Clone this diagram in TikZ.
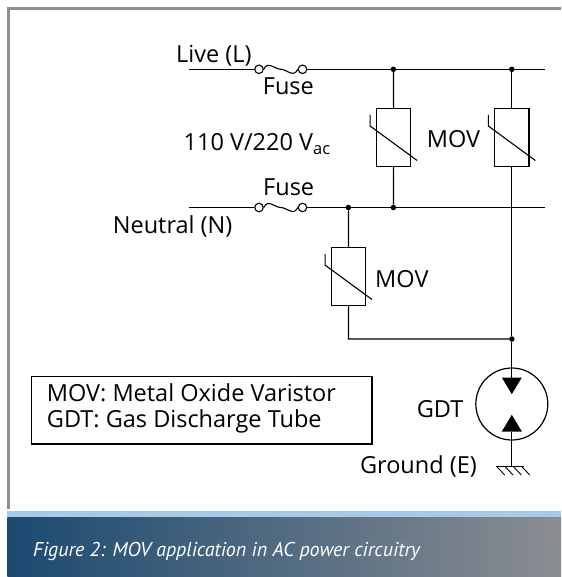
\documentclass[tikz,border=0pt]{standalone}
\usepackage{fontspec}
\setmainfont{Open Sans}
\newfontfamily\capfont{PT Sans}
\usetikzlibrary{calc}
\definecolor{framegray}{HTML}{8E8E8E}
\definecolor{lightband}{HTML}{A5CAEA}
\definecolor{darkleft}{HTML}{1B4A70}
\definecolor{darkright}{HTML}{8B8D92}
\begin{document}
\begin{tikzpicture}[x=1pt,y=-1pt,
  wire/.style={line width=1.2pt},
  lbl/.style={inner sep=0pt,font=\fontsize{23.5}{26}\selectfont},
  dot/.style={circle,fill=black,inner sep=0pt,minimum size=5.5pt},
  term/.style={circle,draw,line width=1.1pt,fill=white,inner sep=0pt,minimum size=8.5pt},
  movbox/.style={draw,line width=1.2pt,minimum width=34.5pt,minimum height=58pt,inner sep=0pt},
  tri/.style={fill=black}
]
\useasboundingbox (0,0) rectangle (561,577);
\fill[white] (0,0) rectangle (561,577);
% frame
\draw[framegray,line width=2.5pt] (8.6,509) -- (8.6,8.6) -- (561,8.6);
% caption band
\fill[lightband] (7.3,510.7) rectangle (561,517.3);
\shade[left color=darkleft,right color=darkright] (7.3,517.3) rectangle (561,577);
\node[inner sep=0pt,anchor=base west,text=white,font=\capfont\fontsize{20}{22}\selectfont\itshape] (cap) at (33,556.5) {Figure 2: MOV application in AC power circuitry};

% coordinates
\coordinate (Ls) at (189,69.3);
\coordinate (Le) at (545,69.3);
\coordinate (Ns) at (189,207.5);
\coordinate (Ne) at (545,207.5);
\node[term] (LF1) at (259,69.3) {};
\node[term] (LF2) at (302.5,69.3) {};
\node[term] (NF1) at (259,207.5) {};
\node[term] (NF2) at (302.5,207.5) {};
\node[dot] (dL1) at (393.4,69.3) {};
\node[dot] (dL2) at (511.8,69.3) {};
\node[dot] (dN1) at (348.4,207.5) {};
\node[dot] (dN2) at (393.4,207.5) {};
\node[dot] (dB) at (511.8,339) {};
\coordinate (cB) at (348.4,339);

% MOV boxes
\node[movbox] (M1) at (393.6,137.5) {};
\node[movbox] (M2) at (511.8,137.5) {};
\node[movbox,minimum width=34pt,minimum height=57.5pt] (M3) at (348.6,276.6) {};
\foreach \m in {M1,M2,M3}{
  \draw[line width=1.1pt] ($(\m.center)+(-23.5,-22.5)$) -- ($(\m.center)+(-23.5,-11.5)$) -- ($(\m.center)+(23.5,23)$);
}

% wires
\draw[wire] (Ls) -- (LF1.west);
\draw[wire] (LF2.east) -- (Le);
\draw[wire] (Ns) -- (NF1.west);
\draw[wire] (NF2.east) -- (Ne);
\foreach \a/\b in {LF1/LF2,NF1/NF2}{
  \draw[line width=1.1pt] (\a.east) .. controls +(4,-9) and +(-6,0) .. ($(\a.east)!0.5!(\b.west)$) .. controls +(6,0) and +(-4,9) .. (\b.west);
}
\draw[wire] (dL1) -- (M1.north);
\draw[wire] (M1.south) -- (dN2);
\draw[wire] (dL2) -- (M2.north);
\draw[wire] (M2.south) -- (dB);
\draw[wire] (dN1) -- (M3.north);
\draw[wire] (M3.south) -- (cB) -- (dB);

% GDT
\node[circle,draw,line width=1.2pt,minimum size=72pt,inner sep=0pt] (G) at (511.8,404) {};
\coordinate (T1b) at (511.8,377.5);
\coordinate (T2b) at (511.8,431.5);
\coordinate (Gnd) at (511.8,466.5);
\fill[tri] (501.8,377.5) -- (521.8,377.5) -- (511.8,394.2) -- cycle;
\fill[tri] (501.8,431.5) -- (521.8,431.5) -- (511.8,414.8) -- cycle;
\draw[wire] (dB) -- (T1b);
\draw[wire] (T2b) -- (Gnd);
% ground symbol
\draw[line width=1.1pt] (495.5,466.5) -- (523.5,466.5);
\foreach \x in {496.7,505,513.3,521.7}{
  \draw[line width=0.9pt] (\x,466.5) -- ++(8,8.5);
}

% labels
\node[lbl,anchor=base west] (tL) at (176,63) {Live (L)};
\node[lbl,anchor=base west] (tF1) at (262.7,95) {Fuse};
\node[lbl,anchor=base west] (tV) at (183.5,150.7) {110 V/220 V\textsubscript{ac}};
\node[lbl,anchor=base west] (tM1) at (426.7,147.3) {MOV};
\node[lbl,anchor=base west] (tF2) at (263,195.7) {Fuse};
\node[lbl,anchor=base west] (tN) at (112.7,233) {Neutral (N)};
\node[lbl,anchor=base west] (tM3) at (375,287) {MOV};
\node[lbl,anchor=base east] (tG) at (463.5,417.5) {GDT};
\node[lbl,anchor=base east] (tE) at (477,473.5) {Ground (E)};

% legend
\draw[line width=1.1pt] (31.5,376.5) rectangle (372,444);
\node[lbl,anchor=base west] (lg1) at (46.7,401.5) {MOV: Metal Oxide Varistor};
\node[lbl,anchor=base west] (lg2) at (46.7,427.5) {GDT: Gas Discharge Tube};
\end{tikzpicture}
\end{document}
